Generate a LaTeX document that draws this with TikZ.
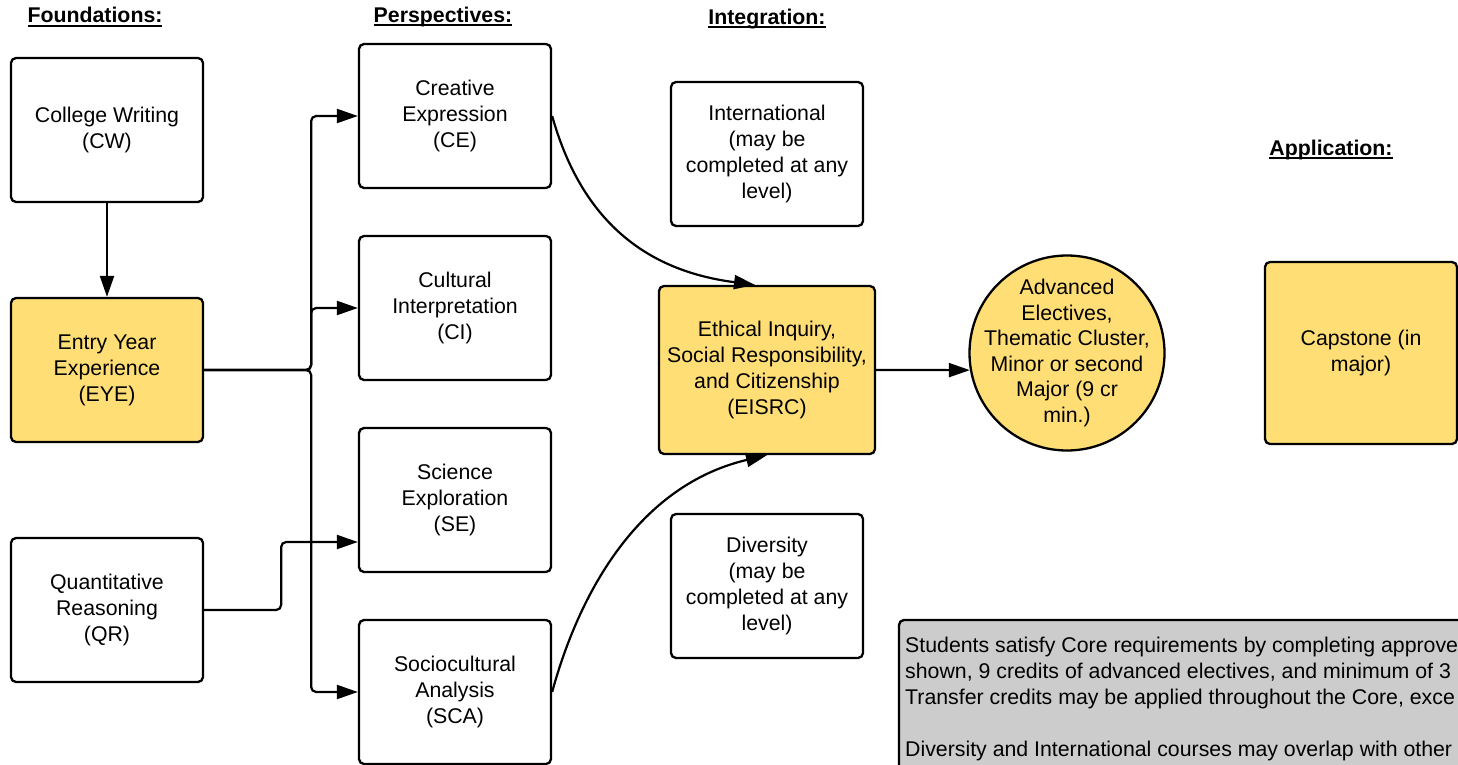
\documentclass[tikz,border=0pt]{standalone}
\usepackage{fontspec}
\setmainfont{Liberation Sans}
\newsavebox{\myulbox}
\newcommand{\myul}[1]{\sbox{\myulbox}{#1}\makebox[0pt][l]{\rule[-3.6pt]{\wd\myulbox}{1.7pt}}\usebox{\myulbox}}
\usetikzlibrary{arrows.meta}
\definecolor{boxyellow}{HTML}{FFDE75}
\definecolor{notegray}{HTML}{CCCCCC}
\begin{document}
\begin{tikzpicture}[x=1pt,y=-1pt,
  font=\fontsize{21.3}{26}\selectfont,
  box/.style={draw=black, line width=2.3pt, rounded corners=5pt, minimum width=192pt, minimum height=144pt, align=center, inner sep=0pt},
  ybox/.style={box, fill=boxyellow},
  conn/.style={line width=2.2pt, -{Triangle[length=21pt,width=14pt]}, rounded corners=5pt},
  head/.style={font=\fontsize{21.3}{26}\selectfont\bfseries, inner sep=0pt}
]
\useasboundingbox (0,0) rectangle (1458,765);
\begin{scope}
\clip (0,0) rectangle (1458,765);
% headings
\node[head] (hf) at (95,17) {\myul{Foundations:}};
\node[head] (hp) at (443,17) {\myul{Perspectives:}};
\node[head] (hi) at (767,19) {\myul{Integration:}};
\node[head] (ha) at (1331,150) {\myul{Application:}};
% nodes
\node[box] (cw) at (107,130) {College Writing\\(CW)};
\node[ybox] (eye) at (107,370) {Entry Year\\Experience\\(EYE)};
\node[box] (qr) at (107,610) {Quantitative\\Reasoning\\(QR)};
\node[box] (ce) at (455,116) {Creative\\Expression\\(CE)};
\node[box] (ci) at (455,308) {Cultural\\Interpretation\\(CI)};
\node[box] (se) at (455,500) {Science\\Exploration\\(SE)};
\node[box] (sca) at (455,692) {Sociocultural\\Analysis\\(SCA)};
\node[box] (intl) at (767,154) {International\\(may be\\completed at any\\level)};
\node[ybox, minimum width=216pt, minimum height=168pt] (eisrc) at (767,370) {Ethical Inquiry,\\Social Responsibility,\\and Citizenship\\(EISRC)};
\node[box] (div) at (767,586) {Diversity\\(may be\\completed at any\\level)};
\node[draw=black, circle, fill=boxyellow, line width=2.3pt, minimum size=195pt, inner sep=-30pt, align=center, font=\fontsize{21.3}{25.5}\selectfont] (adv) at (1067,353) {Advanced\\Electives,\\Thematic Cluster,\\Minor or second\\Major (9 cr\\min.)};
\node[ybox, minimum height=182pt] (cap) at (1361,353) {Capstone (in\\major)};
% note box
\filldraw[draw=black, fill=notegray, line width=2.3pt, rounded corners=5pt] (899,620) rectangle (1480,800);
\node[anchor=north west, align=left, inner sep=0pt] (note) at (905,637) {Students satisfy Core requirements by completing approve\\shown, 9 credits of advanced electives, and minimum of 3\\Transfer credits may be applied throughout the Core, exce\\[26pt]Diversity and International courses may overlap with other};
% connectors
\draw[conn] (cw.south) -- (eye.north);
\draw[conn] (eye.east) -- ++(107,0) |- (ce.west);
\draw[conn] (eye.east) -- ++(107,0) |- (ci.west);
\draw[conn] (eye.east) -- ++(107,0) |- (sca.west);
\draw[conn] (qr.east) -- ++(77,0) |- ([yshift=-42pt]se.west);
\draw[conn] (ce.east) .. controls (580,215) and (640,270) .. ([xshift=-12pt]eisrc.north);
\draw[conn] (sca.east) .. controls (580,590) and (640,485) .. (eisrc.south);
\draw[conn] (eisrc.east) -- (adv.190);
\end{scope}
\end{tikzpicture}
\end{document}
